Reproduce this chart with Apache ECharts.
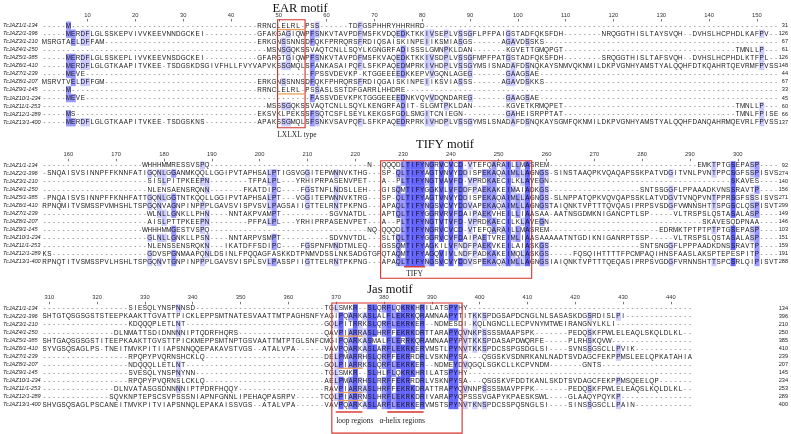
<!DOCTYPE html>
<html><head><meta charset="utf-8">
<script src="https://cdn.jsdelivr.net/npm/echarts@6/dist/echarts.min.js"></script>
<style>html,body{margin:0;padding:0;background:#fff}#c{width:791px;height:434px}</style>
</head><body><div id="c"></div>
<script>
const G = '----------';
const names = ['TcJAZ1/1-134','TcJAZ2/1-396','TcJAZ3/1-210','TcJAZ4/1-250','TcJAZ5/1-385','TcJAZ6/1-410','TcJAZ7/1-239','TcJAZ8/1-207','TcJAZ9/1-145','TcJAZ10/1-234','TcJAZ11/1-253','TcJAZ12/1-289','TcJAZ13/1-400'];
const ends1 = [31,126,67,61,126,148,44,67,33,45,60,66,137];
const ends2 = [92,274,140,156,271,299,149,146,103,151,159,191,288];
const ends3 = [134,396,210,250,385,410,239,207,145,234,253,289,400];
const ruler1 = [10,20,30,40,50,60,70,80,90,100,110,120,130,140,150];
const ruler2 = [160,170,180,190,200,210,220,230,240,250,260,270,280,290,300];
const ruler3 = [310,320,330,340,350,360,370,380,390,400,410,420,430,440];
const blockStart = [1,155,309];
const blockWidth = [154,154,136];
const titles = ['EAR motif','TIFY motif','Jas motif'];

const block1 = [
'-----M'+G+G+G+'---------'+'RRNCLELRL-PSS------TDFGSPHHRYHHRHRD'+G+G+G+G+G+G+G+'----',
'-----MERDFLGLSSKEPVIVVKEEVNNDGCKEI'+G+'-'+'GFAKGAGIQWPFSNKVTAVPDFMSFKVDQEDKTKKIVSEPLVSSGFLPFPAIGSTADFQKSFDH'+'--------'+'NRQGGTHISLTAYSVQH--DVHSLHCPHDLKAFPV--',
'MSRGTAELDFFAM'+G+G+G+'--'+'ERKGNSSNNSDFQKFPRRQRSFRDIQSAISKINPEIIKSMIASGS'+'------'+'AGAVDSSKS'+G+G+G+G+'---------',
G+G+G+G+'-------'+'MSNSGQKSSVAQTCNLLSQYLKGNGRFADISSSLGMNPKLDAN'+'-------'+'KGVETTGMQPGT'+G+G+G+'------'+'TMNLLP---',
'-----MERDFLGLSSKEPLIVVKEEVNSDGCKEI'+G+'-'+'GFARGTGIQWPFSNKVTAVPDFMSFKVAQEDKTKKIVSDPLVSSGFMPFPATGSTADFQKSFDH'+'--------'+'SRQGGTHISLTAFSVQH--DVHSLHCPHDLKTFPL--',
'-----MERDFLGLGTKAAPITVKEE-TSDGSKDSGIVFHLLFVYV'+'APVKSSGMQLSFANKASAIPQFLSFKPAQEDMPRKIVHDPLVSSGYMSISNADAF'+'DSNQKAYSNMVQKNMILDKPVGNHYAMSTYALQQHFDTKQAHRTQEVRMFPVSS',
'-----MEVE'+G+G+G+G+'-------'+'FPSSVDEVKP-KTGGEEEEDKKEPVVGQNLAGEG'+'-------'+'GAAGSAE'+G+G+G+G+G,
'MSRVTVELDFFGM'+G+G+G+'--'+'ERKGNSSNNSDFQKFPHRQRSFRDIQGAISKINPEIIKSVIASSS'+'------'+'AGAVDSKKS'+G+G+G+G+'---------',
'-----M'+G+G+G+'---------'+'RRNCLELRL-PSSASLSSTDFGARRLHHDRE'+G+G+G+G+G+G+G+'--------',
'-----MEVE'+G+G+G+G+'-------'+'FASSVDEVKPKTGGGEEEEDNKVQVVDQNDAREG'+'-------'+'GAAGSAE'+G+G+G+G+G,
G+G+G+G+'-------'+'MSSSGQKSSVAQTCNLLSQYLKENGRFADIT-SLGMTPKLDAN'+'-------'+'KGVETKRMQPET'+G+G+G+'------'+'TMNLLP---',
'-----MS'+G+G+G+'--------'+'EKSVKLPEKSSFSQTCSFLSEYLKEKGSFGDLSMGITCNIEGN'+'---------'+'GAHEISRPPTAT'+G+G+G+'------'+'TMNLFPISE',
'-----MERDFLGLGTKAAPITVKEE-TSDGSKNS'+G+'-'+'APAKSSGMQLSFSNKVSAVPQFLSFKPAQEDRPRKIVHDPLVSSGYMSLSNADAF'+'DSNQKAYSGMFQKNMILDKPVGNHYAMSTYALQQHFDANQAHRMQEVRLFPVSS'
];
const block2 = [
G+G+'-'+'WHHHMMRESSVSPQ'+G+G+G+'---'+'N--QQQDLTIFYNGRVCVCD-VTEFQARAILLMASREM'+G+G+G+'-'+'EMKTPTGSEPASP----',
'-SNQAISVSINNPFFKNNFATIGQNLGGANMKQQLLGGIPVTAPHSAL'+'PTIGSVGGITEPWNNVKTHG---SP-QLTIFYAGTVNVYDDISPEKAQAIMLLA'+'GNGS-SINSTAAQPKVQAQAPSSKPATVDGITVNLPVNTPPCSGFSSPISVS',
G+G+'--'+'SISLPITPKEEPN'+'--------'+'TFPAL'+'PL---YRHIPRPASENVPET---A--PLTIFYNGTVAVFD-VPRDKAECILKLA'+'VEGN'+G+G+G+'--------'+'SKAVES----',
G+G+'--'+'NLENSAENSRQNN'+'-------'+'FKATDI'+'PC----FGSTNFLNDSLLEH---GISQMTIFYGGKVLVFDDFPAEKAKEIMAIA'+'DKGS'+G+'---------'+'SNTSSGGFLPPAAADKVNSSRAVTP----',
'-PNQAISVSINNPFFKNHFATTGQNLGGTNTKQQLLGGIPVTAPHSAL'+'PT---VGGITEPWNNVKTRG---SP-QLTIFYAGTVNVYDDISPEKAQAIMLLA'+'GNGS-SLNPPATQPKVQVQAPSSKLATVDGVTVNQPVNTPPRSGFSSSISVS',
'RPNQMITVSMSSPVMHSHLTSPGQNVAGNPINPPPLGAVSVISPVSVL'+'PAGSAIIGTTELRNTPKPNG---APAQLTIFYNGSVCVYDDVAPEKAQAIMLLA'+'GNGSTAIQNKTVPTTTQVQASIPRPSVSDGFVWNNSHTTSPGSCLQSPISVT',
G+G+'--'+'WLNLLGNKLLPHN'+'----'+'NNTAKPVAM'+'PT----------SGVNATDL---APTQLTIFYGGRVRVFDAIPAEKVHEILLIA'+'ASAA-AATNSGDMKNIGANCPTLSP'+'-----'+'VLTRSPSLQSTASALASP----',
G+G+'--'+'AISLPTTPKEEPN'+'--------'+'PFPAL'+'PL---YRHIPRPASENVPET---A--PLTIFYNGTVTVFD-VPRDKAECILKLA'+'VEGN'+G+G+G+'--'+'SKAVESQDPNAA----',
G+G+'-'+'WHHHMMGESTVSPQ'+G+G+G+'---'+'NQ-QQQDLTIFYNGRVCVCD-VTEFQARAILLMASREM'+G+G+'---'+'EDRMKTPTPTPTPTGSEPASP----',
G+G+'--'+'GLNLLGNKLLPSN'+'----'+'NNTARPVSM'+'PT----------SDVNVTDL---SLTQLTIFYGGRVCVFDAIPAETVREIMLIA'+'ASAAAAATNTGDIKNIGANRPTSSP'+'-----'+'VLTRSPSLQSTASALASP----',
G+G+'--'+'NLENSSENSRQKN'+'---'+'IKATDFFSDI'+'PC----FGSPNFMNDTMLEQ---GSSQMTIFYAGKILVFNDFPAEKVKEILAIA'+'SKGS'+G+'---------'+'SNTSNGGFLPPPAADKDNSSRAVTP----',
'KS'+G+G+'GDVSPGNMAAPQNLDSINLFPQQAGF'+'ASKKDTPNMVDSSLNKSADGTGPQTAQMTIFYAGQVIVLNDFPADKAKEIMQLA'+'SKGS'+'-----'+'FQSQIHTTTTFPCMPAQIHNSFAASLAKSPTEPESPITP'+'----',
'RPNQTITVSMSSPVLHSHLTSPGQNVTGNPINPPPLGAVSVISPLSVL'+'PASSPIIGTTELRNTPKPNG---APAQLTIFYNGSVCVYDDVSPEKAQAIMLLA'+'GNGSIAIQNKTVPTTTQEQASIPRPSVGDGFVRNNSHTTSPCSRLQIPISVT'
];
const block3 = [
G+'--------'+'SIESQLYNSPNNSD'+G+G+'-------'+'TGLSMKR--SLQRFLQKRKHRILATSPYHY'+G+G+G+G+'-------',
'SHTGTQSGSGSTSTEEPKAAKTTGVATTPICKLEPPSMTNATESVAAT'+'TMTPAGHSNFYAGIPQARKASLALFLEKRKQRAMNAAPYTITKKSPDGSAPDCN'+'GLNLSASASKDGSRDISLPI'+G+'----',
G+'--------'+'KDQQQPLETLNT'+G+G+'---------'+'GQLPITRRKSLQRFLEKRKER--NDMESDI-KQLNGNCLLECP'+'VNYMTWEIRANGNYLKLI'+G+'------',
G+'-----'+'DLNMATTSDIDNNNNIPTQDRFHQRS'+G+'--------'+'QAVPIARRASLHRFFEKRKDRTTARAPYQVNKPSSSSMAAPSPK'+'-------'+'PEDQSKFPWLELEAQLSKQLDLKL--',
'SHTGAQSGSGSTITEEPKAAKTTGVSTTPICKMEPPSMTNPTGSVAAT'+'TMTPTGLSNFCMGIPQARKASMALFLERRKQRAMNAAPYPVTKKSPDASAPDWQ'+'RFE'+'-----'+'PLRHSKQVW'+G+'-------',
'SYVGSQSAGLPS-TNEITMVKPITIIAPSNNQQEPAKAVSTVGS--AT'+'ALVPA------VAVPQARKASLARFLEKRKERVMSTLPYNVTKKSPDCSSPGSD'+'GLSI----SVNSSGSCLLPVIK'+G+'--',
G+'--------'+'RPQPYPVQRNSHCKLQ'+G+G+'-----'+'DELPMARRHSLQRFFEKRRDRLVSKNPYSA---QSGSKVSDNR'+'KANLNADTSVDAGCFEKPPMSLEELQPKATAHIA',
G+'--------'+'NDQQQLLETLNT'+G+G+'---------'+'GQLPIARRKSLQRFLEKRKER--NDMEYDVQGQLSGKCLLKCP'+'VNDM-------GNTS'+G+'---------',
G+'--------'+'SVESQLYNSPNYNN'+G+G+'-------'+'TGLSMKR--SLHLFLQKRKHRILATSPYHY'+G+G+G+G+'-------',
G+'--------'+'RPQPYPVQRNSLCKLQ'+G+G+'-----'+'AELPMARRHSLRRFFEKRRDRLVSKNPYSA---QSGSKVFDDT'+'KANLSKDTSVDAGCFEKPPMSQEELQP'+'-------',
G+'-----'+'DLNVATASGSDNNNNIPTPDRFHQQY'+G+'--------'+'RAVPIARRASLHRFFEKRKDRATTRAPYQVNNPSSSSMAVPFPK'+'-------'+'PEDQSKFPWLELEAQSLKQLDLKL--',
G+'----'+'SQVKNPTEPSCSVPSSSNIAPNFGNNLIPEHAQPASRPV'+'-----'+'TCQLPIARRNSLHRFLEKRKDRIVARAPYQPSSSVGAPYKPAESKSWL'+'----'+'GLAAQYPQYKP'+G+'-----',
'SHVGSQSAGLPSCANEITMVKPITVIAPSNNQLEPAKAISSVGS--AT'+'ALVPA------VAVPQARKASLARFLEKRKERVMSTSPYNVTKNSPDCSSPQSN'+'GLSI----SINSSGSCLLPAIN'+G+'--'
];

// ---------- layout / style (not data) ----------
const P = 4.8, X1 = 42.5, H = 8.05, NCOL = 154;
const tops = [21.5, 161.3, 304.3];
const SHADE = [null, 'rgb(204,204,255)', 'rgb(153,153,255)', 'rgb(100,100,255)'];
const RES_FONT = '6.3px "Liberation Sans", Arial, sans-serif';
const LBL_FONT = '7.5px "Liberation Serif", "Times New Roman", serif';
const RED = '#d3322c', ORANGE = '#e9a15a';
const annots = [
  [ {t:'box', k0:49.75, k1:55.5, r0:0.28, r1:13.69},
    {t:'line', k0:49.9, k1:55.35, r:1.5, c:ORANGE},
    {t:'line', k0:49.9, k1:55.35, r:9.5, c:ORANGE},
    {t:'text', k:53.8, r:14.56, s:'LXLXL type'} ],
  [ {t:'box', k0:71.3, k1:102.9, r0:0.43, r1:15.03},
    {t:'line', k0:76.2, k1:80.6, r:13.6, c:RED, w:1.4},
    {t:'text', k:78.4, r:14.45, s:'TIFY'} ],
  [ {t:'box', k0:61.1, k1:88.35, r0:0.34, r1:16.5},
    {t:'line', k0:62.5, k1:67.5, r:4.45, c:ORANGE},
    {t:'line', k0:62.5, k1:67.5, r:8.45, c:ORANGE},
    {t:'line', k0:62.5, k1:67.5, r:11.45, c:ORANGE},
    {t:'line', k0:62.5, k1:67.5, r:12.45, c:ORANGE},
    {t:'line', k0:61.9, k1:67.5, r:13.88, c:RED, w:1.4},
    {t:'line', k0:72.7, k1:80.3, r:13.88, c:RED, w:1.4},
    {t:'text', k:65.9, r:14.96, s:'loop regions'},
    {t:'text', k:75.8, r:14.96, s:'\u03b1-helix regions'} ]
];
const titlePos = [[300, 8.5], [445, 145], [390, 290]];

function shadeLevels(rows){
  const n = rows.length, L = rows[0].length;
  const out = rows.map(()=>new Array(L).fill(0));
  for (let k=0;k<L;k++){
    const cnt = {};
    rows.forEach(s=>{ const c=s[k]; if(c && c!=='-') cnt[c]=(cnt[c]||0)+1; });
    let mx = 0; for (const c in cnt) mx = Math.max(mx, cnt[c]);
    const pct = mx/n*100;
    const lv = pct>80?3:(pct>60?2:(pct>40?1:0));
    if (!lv) continue;
    rows.forEach((s,i)=>{ if (s[k]!=='-' && cnt[s[k]]===mx) out[i][k]=lv; });
  }
  return out;
}
function buildCells(rows){
  const lv = shadeLevels(rows), cells = [];
  rows.forEach((s,i)=>{ for (let k=0;k<s.length;k++) cells.push({k:k+1, r:i+1, ch:s[k], lv:lv[i][k]}); });
  return cells;
}
const blocks = [block1, block2, block3];
const rulers = [ruler1, ruler2, ruler3];
const endsAll = [ends1, ends2, ends3];
const errs = [];
blocks.forEach((b,bi)=>b.forEach((s,ri)=>{ if (s.length!==blockWidth[bi]) errs.push('B'+(bi+1)+'R'+(ri+1)+':'+s.length); }));

const grids=[], xAxes=[], yAxes=[], series=[];
blocks.forEach((rows, b)=>{
  grids.push({left: X1-P/2, top: tops[b], width: NCOL*P, height: 13*H});
  const local = rulers[b].map(n=>n-blockStart[b]+1);
  xAxes.push({type:'value', gridIndex:b, position:'top', min:0.5, max:NCOL+0.5,
    axisLine:{show:false}, splitLine:{show:false},
    axisTick:{show:true, customValues: local, length:2.5, lineStyle:{color:'#555', width:0.8}},
    axisLabel:{show:true, customValues: local, formatter: v=>String(Math.round(v+blockStart[b]-1)), fontSize:5.8, margin:3.6, color:'#333', fontFamily:'"Liberation Sans", Arial, sans-serif'}});
  const rowsIdx = names.map((_,i)=>i+1);
  yAxes.push({type:'value', gridIndex:b, inverse:true, min:0.5, max:13.5,
    axisLine:{show:false}, axisTick:{show:false}, splitLine:{show:false},
    axisLabel:{show:true, customValues: rowsIdx, formatter: v=>names[Math.round(v)-1], align:'left', margin: X1-P/2-1,
      fontSize:5.6, fontStyle:'italic', color:'#222', fontFamily:'"Liberation Sans", Arial, sans-serif'}});
  yAxes.push({type:'value', gridIndex:b, position:'right', inverse:true, min:0.5, max:13.5,
    axisLine:{show:false}, axisTick:{show:false}, splitLine:{show:false},
    axisLabel:{show:true, customValues: rowsIdx, formatter: v=>String(endsAll[b][Math.round(v)-1]), align:'right', margin: 9.6,
      fontSize:5.6, color:'#222', fontFamily:'"Liberation Sans", Arial, sans-serif'}});
  const cells = buildCells(rows);
  series.push({type:'custom', xAxisIndex:b, yAxisIndex:2*b, silent:true, animation:false,
    data: cells.map(c=>[c.k, c.r]),
    renderItem: (params, api)=>{
      const c = cells[params.dataIndex];
      const p = api.coord([c.k, c.r]);
      const sz = api.size([1,1]);
      const ch = [];
      if (c.lv) ch.push({type:'rect', shape:{x:p[0]-sz[0]/2, y:p[1]-sz[1]/2, width:sz[0]+0.25, height:sz[1]+0.25}, style:{fill:SHADE[c.lv]}});
      ch.push({type:'text', style:{text:c.ch, x:p[0], y:p[1]+0.3, align:'center', verticalAlign:'middle', font:RES_FONT, fill: c.ch==='-' ? '#666' : '#111'}});
      return {type:'group', children: ch};
    }});
  series.push({type:'custom', xAxisIndex:b, yAxisIndex:2*b, silent:true, animation:false, clip:false, z:5,
    data:[[1,1]],
    renderItem: (params, api)=>{
      const ch = [];
      annots[b].forEach(a=>{
        if (a.t==='box'){
          const p0 = api.coord([a.k0, a.r0]), p1 = api.coord([a.k1, a.r1]);
          ch.push({type:'rect', shape:{x:p0[0], y:p0[1], width:p1[0]-p0[0], height:p1[1]-p0[1]}, style:{fill:'none', stroke:RED, lineWidth:1.1}});
        } else if (a.t==='line'){
          const p0 = api.coord([a.k0, a.r]), p1 = api.coord([a.k1, a.r]);
          ch.push({type:'line', shape:{x1:p0[0], y1:p0[1], x2:p1[0], y2:p1[1]}, style:{stroke:a.c, lineWidth:a.w||1.3}});
        } else {
          const p = api.coord([a.k, a.r]);
          ch.push({type:'text', style:{text:a.s, x:p[0], y:p[1], align:'center', verticalAlign:'middle', font:LBL_FONT, fill:'#222'}});
        }
      });
      return {type:'group', children: ch};
    }});
});

const graphic = titles.map((t,i)=>({type:'text', x:titlePos[i][0], y:titlePos[i][1], style:{text:t, align:'center', verticalAlign:'middle', font:'12.5px "Liberation Serif", "Times New Roman", serif', fill:'#111'}}));
if (errs.length) graphic.push({type:'text', x:5, y:430, style:{text:'LEN '+errs.join(' '), font:'10px sans-serif', fill:'red'}});

const chart = echarts.init(document.getElementById('c'), null, {renderer:'canvas', width:791, height:434});
chart.setOption({animation:false, backgroundColor:'#fff', grid:grids, xAxis:xAxes, yAxis:yAxes, series:series, graphic:graphic});
</script></body></html>
